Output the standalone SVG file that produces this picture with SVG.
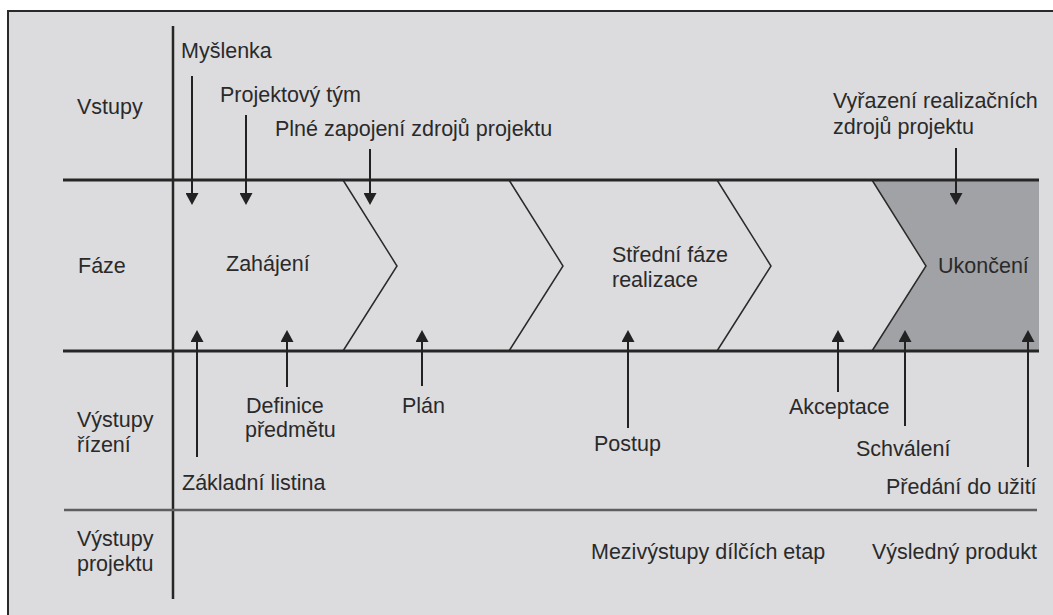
<svg xmlns="http://www.w3.org/2000/svg" width="1053" height="615" viewBox="0 0 1053 615">
<defs>
<style>
.t{font-family:"Liberation Sans",Arial,sans-serif;font-size:21.5px;fill:#2a2a2a}
.ln{stroke:#262626;fill:none}
.ar{stroke:#222;stroke-width:2;fill:none;marker-end:url(#ah)}
.ch{stroke:#2a2a2a;stroke-width:1.5;fill:none;stroke-linejoin:miter}
</style>
<marker id="ah" markerUnits="userSpaceOnUse" markerWidth="13" markerHeight="13" refX="2" refY="6.5" orient="auto" viewBox="0 0 13 13">
<path d="M0,0 L12,6.5 L0,13 z" fill="#222"/>
</marker>
</defs>
<rect x="0" y="0" width="1053" height="615" fill="#ffffff"/>
<rect x="8" y="11" width="1060" height="620" fill="#dcdcde" stroke="#2a2a2a" stroke-width="2"/>

<g id="phase-end">
<polygon points="872,180 926,266 872,351 1039,351 1039,180" fill="#a1a2a5"/>
</g>
<g id="chevrons">
<polyline class="ch" points="343,180 397,266 343,351"/>
<polyline class="ch" points="509,180 563,266 509,351"/>
<polyline class="ch" points="717,180 771,266 717,351"/>
<polyline class="ch" points="872,180 926,266 872,351"/>
</g>

<g id="grid">
<line class="ln" x1="173" y1="26" x2="173" y2="599" stroke-width="2.5"/>
<line class="ln" x1="63" y1="180" x2="1039" y2="180" stroke-width="3"/>
<line class="ln" x1="63" y1="351" x2="1039" y2="351" stroke-width="3"/>
<line x1="64" y1="510" x2="1037" y2="510" stroke="#5e5e60" stroke-width="2.5"/>
</g>

<g id="row-labels">
<text class="t" x="77" y="114">Vstupy</text>
<text class="t" x="78" y="273">Fáze</text>
<text class="t" x="77" y="427">Výstupy</text>
<text class="t" x="77" y="452">řízení</text>
<text class="t" x="77" y="546">Výstupy</text>
<text class="t" x="77" y="571">projektu</text>
</g>

<g id="phase-zahajeni"><text class="t" x="226" y="271">Zahájení</text></g>
<g id="phase-stredni"><text class="t" x="612" y="262">Střední fáze</text><text class="t" x="612" y="287">realizace</text></g>
<g id="phase-ukonceni"><text class="t" x="938" y="273">Ukončení</text></g>

<g id="inputs">
<text class="t" x="181" y="58">Myšlenka</text>
<text class="t" x="220" y="102">Projektový tým</text>
<text class="t" x="275" y="136">Plné zapojení zdrojů projektu</text>
<text class="t" x="833" y="108">Vyřazení realizačních</text>
<text class="t" x="833" y="134">zdrojů projektu</text>
</g>

<g id="outputs">
<text class="t" x="182" y="490">Základní listina</text>
<text class="t" x="246" y="413">Definice</text>
<text class="t" x="245" y="437">předmětu</text>
<text class="t" x="402" y="413">Plán</text>
<text class="t" x="594" y="451">Postup</text>
<text class="t" x="789" y="414">Akceptace</text>
<text class="t" x="856" y="456">Schválení</text>
<text class="t" x="886" y="494">Předání do užití</text>
<text class="t" x="591" y="559">Mezivýstupy dílčích etap</text>
<text class="t" x="872" y="559">Výsledný produkt</text>
</g>

<g id="connectors">
<line class="ar" x1="192" y1="76" x2="192" y2="195"/>
<line class="ar" x1="246" y1="115" x2="246" y2="195"/>
<line class="ar" x1="370" y1="149" x2="370" y2="195"/>
<line class="ar" x1="956" y1="148" x2="956" y2="195"/>
<line class="ar" x1="197" y1="457" x2="197" y2="340"/>
<line class="ar" x1="287" y1="387" x2="287" y2="340"/>
<line class="ar" x1="422" y1="386" x2="422" y2="340"/>
<line class="ar" x1="628" y1="428" x2="628" y2="340"/>
<line class="ar" x1="838" y1="392" x2="838" y2="340"/>
<line class="ar" x1="905" y1="426" x2="905" y2="340"/>
<line class="ar" x1="1028" y1="467" x2="1028" y2="340"/>
</g>
</svg>
